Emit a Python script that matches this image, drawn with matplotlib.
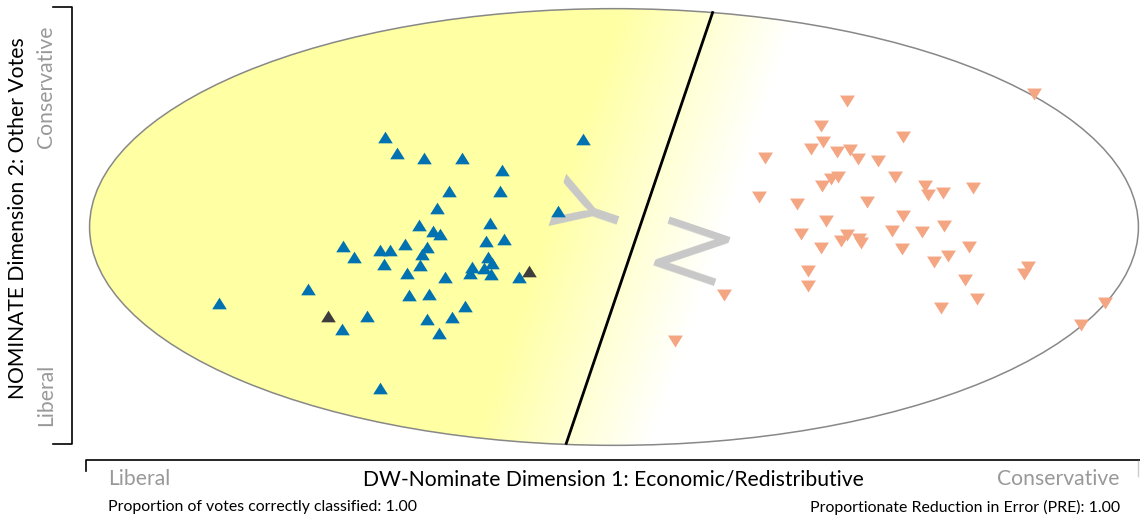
import matplotlib
matplotlib.use("Agg")
import matplotlib.pyplot as plt
import numpy as np
from matplotlib.lines import Line2D
from matplotlib.patches import Ellipse
from matplotlib.path import Path as MPath

plt.rcParams["font.family"] = ["Lato", "DejaVu Sans"]

# yea voters (blue), yea voters with errors (dark), nay voters (orange)
yea_x = [-0.437, -0.414, -0.363, -0.290, -0.214, -0.217, -0.315, -0.338, -0.371, -0.346,
         -0.332, -0.236, -0.245, -0.209, -0.516, -0.495, -0.446, -0.428, -0.399, -0.357,
         -0.366, -0.439, -0.369, -0.240, -0.271, -0.233, -0.248, -0.275, -0.234, -0.394,
         -0.323, -0.181, -0.352, -0.390, -0.583, -0.753, -0.285, -0.471, -0.308, -0.357,
         -0.518, -0.333, -0.447, -0.107, -0.059]
yea_y = [0.412, 0.339, 0.318, 0.318, 0.260, 0.166, 0.163, 0.088, 0.009, -0.018,
         -0.032, 0.018, -0.063, -0.056, -0.085, -0.136, -0.105, -0.104, -0.076, -0.090,
         -0.123, -0.168, -0.175, -0.136, -0.181, -0.166, -0.187, -0.211, -0.216, -0.211,
         -0.230, -0.230, -0.305, -0.312, -0.282, -0.346, -0.361, -0.406, -0.412, -0.421,
         -0.469, -0.485, -0.738, 0.073, 0.402]

yea_other_x = [-0.163, -0.545]
yea_other_y = [-0.202, -0.408]

nay_x = [0.445, 0.800, 0.395, 0.551, 0.399, 0.376, 0.426, 0.450, 0.465, 0.504,
         0.288, 0.536, 0.428, 0.414, 0.397, 0.593, 0.598, 0.627, 0.684, 0.277,
         0.348, 0.483, 0.552, 0.404, 0.629, 0.531, 0.357, 0.587, 0.445, 0.433,
         0.468, 0.471, 0.395, 0.549, 0.677, 0.636, 0.610, 0.790, 0.781, 0.370,
         0.369, 0.669, 0.209, 0.693, 0.624, 0.937, 0.891, 0.117]
nay_y = [0.577, 0.607, 0.461, 0.410, 0.389, 0.355, 0.344, 0.352, 0.312, 0.301,
         0.316, 0.230, 0.230, 0.219, 0.187, 0.187, 0.146, 0.157, 0.179, 0.138,
         0.105, 0.113, 0.052, 0.026, 0.005, -0.017, -0.032, -0.024, -0.038, -0.064,
         -0.056, -0.074, -0.097, -0.102, -0.090, -0.132, -0.161, -0.184, -0.216, -0.201,
         -0.269, -0.243, -0.311, -0.330, -0.373, -0.346, -0.449, -0.524]

# cutting line end points
cut_x = [0.188, -0.091]
cut_y = [0.982, -0.991]

BLUE = "#0072b2"
DARK = "#3d3d3d"
ORANGE = "#f4a582"
YELLOW = np.array([255, 255, 163]) / 255.0
GREY_TXT = "#999999"

W, H = 1140, 523
fig = plt.figure(figsize=(W / 100, H / 100), dpi=100)
ax = fig.add_axes([88 / W, 1 - 446 / H, 1052 / W, 438 / H])
ax.set_xlim(-1.003, 1.003)
ax.set_ylim(-1.003, 1.003)
ax.axis("off")

# shading: yellow on the yea side, fading to white across the cutting line
gx = np.linspace(-1, 1, 800)
gy = np.linspace(-1, 1, 400)
XX, YY = np.meshgrid(gx, gy)
slope = (cut_x[0] - cut_x[1]) / (cut_y[0] - cut_y[1])
x_line = cut_x[1] + (YY - cut_y[1]) * slope
dist_px = (XX - x_line) * 526
t = np.clip((dist_px + 95) / 180, 0, 1)
img = YELLOW[None, None, :] * (1 - t[..., None]) + np.ones(3)[None, None, :] * t[..., None]
ell_clip = Ellipse((0, 0), 2, 2, transform=ax.transData, facecolor="none")
im = ax.imshow(img, extent=[-1, 1, -1, 1], origin="lower", aspect="auto", zorder=0)
ax.add_patch(ell_clip)
im.set_clip_path(ell_clip)

ax.add_patch(Ellipse((0, 0), 2, 2, facecolor="none", edgecolor="#888888",
                     linewidth=1.1, zorder=1, clip_on=False))

ax.plot(cut_x, cut_y, color="black", linewidth=2, zorder=2)

ang = np.degrees(np.arctan2((cut_y[0] - cut_y[1]) * 219, (cut_x[0] - cut_x[1]) * 526))
ax.text(-0.036, 0.07, "Y", rotation=ang, fontsize=64, color="#c8c8c8",
        ha="center", va="center", rotation_mode="anchor", zorder=2)
ax.text(0.113, -0.13, "N", rotation=ang - 180, fontsize=64, color="#c8c8c8",
        ha="center", va="center", rotation_mode="anchor", zorder=2)

up = MPath([(-1, -0.8), (1, -0.8), (0, 0.8), (-1, -0.8)])
down = MPath([(-1, 0.8), (1, 0.8), (0, -0.8), (-1, 0.8)])
ax.scatter(yea_x, yea_y, marker=up, s=110, color=BLUE, linewidths=0, zorder=3)
ax.scatter(yea_other_x, yea_other_y, marker=up, s=110, color=DARK, linewidths=0, zorder=3)
ax.scatter(nay_x, nay_y, marker=down, s=115, color=ORANGE, linewidths=0, zorder=3)

# bracket axes
def fig_line(xs, ys, **kw):
    fig.add_artist(Line2D([x / W for x in xs], [1 - y / H for y in ys],
                          transform=fig.transFigure, **kw))

fig_line([53, 72, 72, 53], [7, 7, 444, 444], color="black", linewidth=1.2)
fig_line([86, 86, 1140], [471, 460, 460], color="black", linewidth=1.2)
fig_line([1138, 1138], [461, 476], color="#cccccc", linewidth=1)

fig.text(18 / W, 1 - 218 / H, "NOMINATE Dimension 2: Other Votes", rotation=90,
         fontsize=15.2, ha="center", va="center")
fig.text(46 / W, 1 - 26 / H, "Conservative", rotation=90, fontsize=15.2,
         color=GREY_TXT, ha="center", va="top")
fig.text(46 / W, 1 - 426 / H, "Liberal", rotation=90, fontsize=15.2,
         color=GREY_TXT, ha="center", va="bottom")

fig.text(108 / W, 1 - 479 / H, "Liberal", fontsize=15.2, color=GREY_TXT,
         ha="left", va="center")
fig.text(613 / W, 1 - 479 / H, "DW-Nominate Dimension 1: Economic/Redistributive",
         fontsize=15.2, ha="center", va="center")
fig.text(1120 / W, 1 - 479 / H, "Conservative", fontsize=15.2, color=GREY_TXT,
         ha="right", va="center")

fig.text(108 / W, 1 - 507 / H, "Proportion of votes correctly classified: 1.00",
         fontsize=11.4, ha="left", va="center")
fig.text(1120 / W, 1 - 507 / H, "Proportionate Reduction in Error (PRE): 1.00",
         fontsize=11.4, ha="right", va="center")

fig.savefig("out.png", dpi=100)
